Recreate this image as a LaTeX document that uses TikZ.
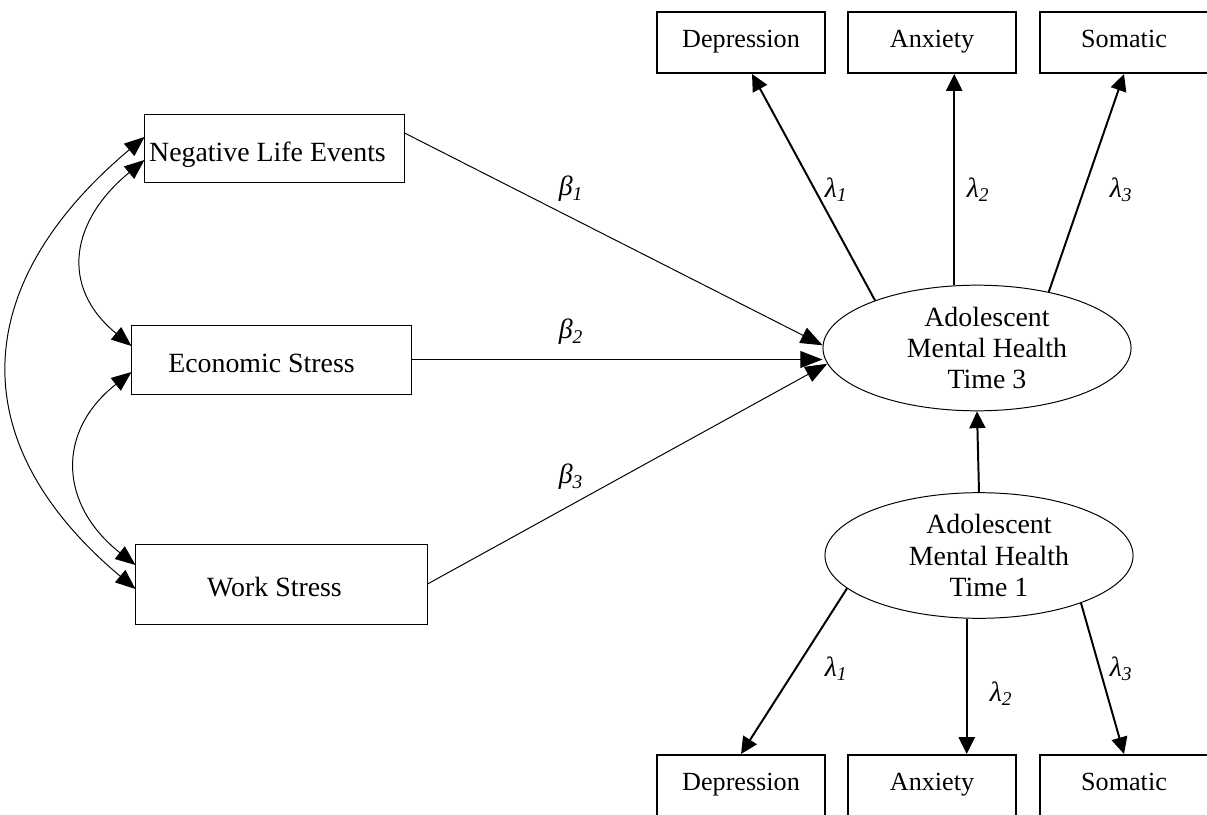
\documentclass[tikz,border=0pt]{standalone}
\usepackage{fontspec}
\setmainfont{Liberation Serif}
\usepackage{tikz}
\usetikzlibrary{positioning, arrows.meta, shapes.geometric, calc}
\tikzset{
    obsbox/.style={rectangle, draw, line width=0.7pt, inner sep=0pt, text height=18pt, text depth=0pt, font=\fontsize{19.8}{22}\selectfont},
    indbox/.style={rectangle, draw, line width=1.4pt, minimum width=4.2cm, minimum height=1.525cm, inner sep=0pt, text height=12pt, text depth=4.2pt, font=\fontsize{18.6}{21}\selectfont},
    latent/.style={ellipse, draw, line width=0.7pt, minimum width=7.7cm, minimum height=3.14cm, inner sep=0pt, align=center, font=\fontsize{19.8}{22.3}\selectfont},
    regpath/.style={-{Triangle[length=0.55cm, width=0.42cm]}, line width=0.7pt},
    covpath/.style={{Triangle[length=0.5cm, width=0.4cm]}-{Triangle[length=0.5cm, width=0.4cm]}, line width=0.7pt},
    loadpath/.style={-{Triangle[length=0.42cm, width=0.4cm]}, line width=1.4pt},
    coef/.style={inner sep=0pt, font=\fontsize{19.8}{22}\selectfont\itshape}
}
\newcommand{\lvlabel}[1]{\hspace*{0.5cm}Adolescent\\\hspace*{0.5cm}Mental Health\\\hspace*{0.5cm}Time #1}

\begin{document}
\begin{tikzpicture}[x=0.025cm, y=-0.025cm]
\useasboundingbox (0,0) rectangle (1207,814);
\clip (0,0) rectangle (1207,814);

% stressors
\node[obsbox, minimum width=6.475cm, minimum height=1.675cm] (nle) at (274.5,148.5) {Negative Life Events\hspace*{0.35cm}};
\node[obsbox, minimum width=6.975cm, minimum height=1.725cm] (es) at (271.5,359.5) {Economic Stress\hspace*{0.5cm}};
\node[obsbox, minimum width=7.275cm, minimum height=2cm] (ws) at (281.5,584) {Work Stress\hspace*{0.35cm}};

% latent mental health
\node[latent] (t3) at (977,348) {\lvlabel{3}};
\node[latent] (t1) at (979,555.5) {\lvlabel{1}};

% indicators
\node[indbox] (dep3) at (741,42.5) {Depression};
\node[indbox] (anx3) at (932,42.5) {Anxiety};
\node[indbox] (som3) at (1124,42.5) {Somatic};
\node[indbox] (dep1) at (741,785.5) {Depression};
\node[indbox] (anx1) at (932,785.5) {Anxiety};
\node[indbox] (som1) at (1124,785.5) {Somatic};

% covariances
\draw[covpath] ($(nle.west)+(0,-11.5)$) .. controls +(-175,147) and +(-175,-147) .. ($(ws.west)+(0,5)$);
\draw[covpath] ($(nle.west)+(0,11.5)$) .. controls +(-73,60) and +(-73,-60) .. ($(es.west)+(0,-13.5)$);
\draw[covpath] ($(es.west)+(0,12.5)$) .. controls +(-76,60) and +(-76,-60) .. ($(ws.west)+(0,-19)$);

% regressions
\draw[regpath] ($(nle.east)+(0,-15.5)$) -- (t3.179);
\draw[regpath] (es.east) -- (es.east -| t3.west);
\draw[regpath] (ws.east) -- (t3.186);
\node[coef] (b1) at (571,189) {β\textsubscript{1}};
\node[coef] (b2) at (571,332) {β\textsubscript{2}};
\node[coef] (b3) at (571,477) {β\textsubscript{3}};

% loadings
\draw[loadpath] (t3.155.2) -- ($(dep3.south)+(11,0)$);
\draw[loadpath] (t3.110) -- (t3.110 |- anx3.south);
\draw[loadpath] (t3.38.7) -- (som3.south);
\draw[loadpath] (t1.north) -- (t3.south);
\draw[loadpath] (t1.194.2) -- (dep1.north);
\draw[loadpath] (t1.259.1) -- (t1.259.1 |- anx1.north);
\draw[loadpath] (t1.335.9) -- (som1.north);
\node[coef] (l31) at (836,190) {λ\textsubscript{1}};
\node[coef] (l32) at (978,190) {λ\textsubscript{2}};
\node[coef] (l33) at (1121,190) {λ\textsubscript{3}};
\node[coef] (l11) at (836,669) {λ\textsubscript{1}};
\node[coef] (l12) at (1001,694) {λ\textsubscript{2}};
\node[coef] (l13) at (1121,669) {λ\textsubscript{3}};
\end{tikzpicture}
\end{document}
